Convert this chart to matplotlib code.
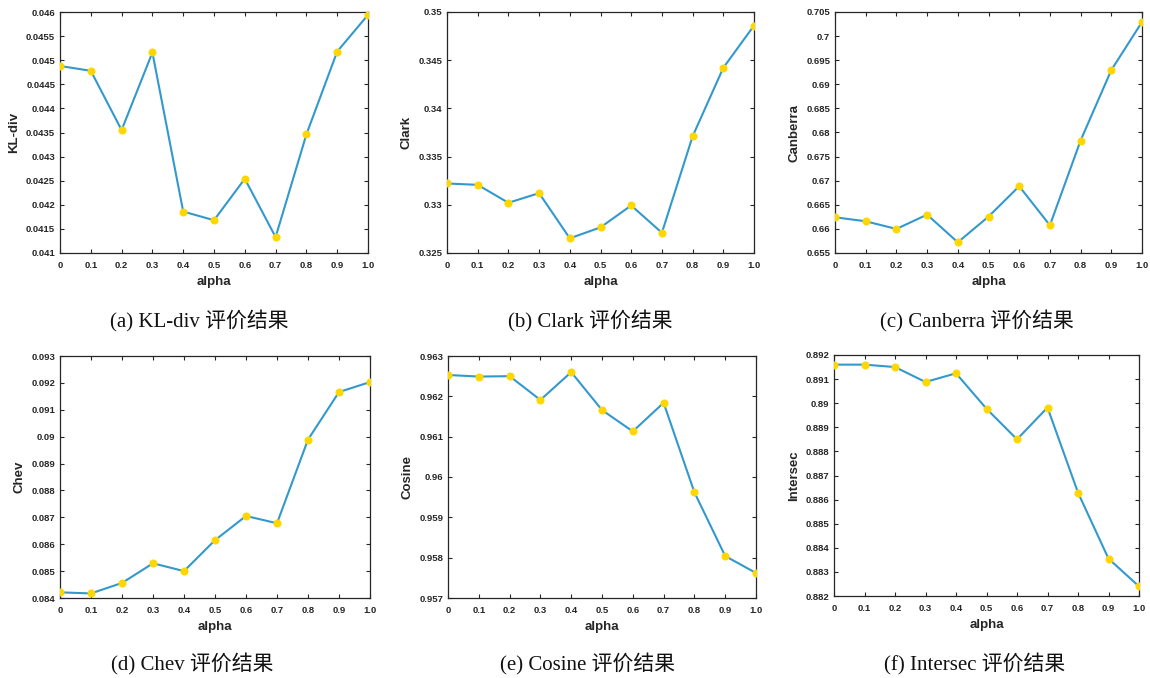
import matplotlib
matplotlib.use('Agg')
import matplotlib.pyplot as plt

alpha = [0, 0.1, 0.2, 0.3, 0.4, 0.5, 0.6, 0.7, 0.8, 0.9, 1.0]
alpha_labels = ['0', '0.1', '0.2', '0.3', '0.4', '0.5', '0.6', '0.7', '0.8', '0.9', '1.0']

kl_div = [0.04488, 0.04478, 0.04355, 0.04516, 0.04186, 0.04168, 0.04254, 0.04133, 0.04346, 0.04518, 0.04594]
clark = [0.33221, 0.33207, 0.33021, 0.33121, 0.32652, 0.32766, 0.32993, 0.32710, 0.33710, 0.34421, 0.34859]
canberra = [0.66241, 0.66158, 0.65999, 0.66296, 0.65722, 0.66255, 0.66885, 0.66075, 0.67834, 0.69295, 0.70292]
chev = [0.08421, 0.08417, 0.08456, 0.08529, 0.08500, 0.08615, 0.08705, 0.08678, 0.08989, 0.09166, 0.09203]
cosine = [0.96253, 0.96249, 0.96250, 0.96191, 0.96260, 0.96166, 0.96113, 0.96184, 0.95962, 0.95804, 0.95762]
intersec = [0.89160, 0.89160, 0.89150, 0.89088, 0.89124, 0.88977, 0.88850, 0.88982, 0.88629, 0.88355, 0.88240]

kl_ticks = ['0.041', '0.0415', '0.042', '0.0425', '0.043', '0.0435', '0.044', '0.0445', '0.045', '0.0455', '0.046']
clark_ticks = ['0.325', '0.33', '0.335', '0.34', '0.345', '0.35']
canberra_ticks = ['0.655', '0.66', '0.665', '0.67', '0.675', '0.68', '0.685', '0.69', '0.695', '0.7', '0.705']
chev_ticks = ['0.084', '0.085', '0.086', '0.087', '0.088', '0.089', '0.09', '0.091', '0.092', '0.093']
cosine_ticks = ['0.957', '0.958', '0.959', '0.96', '0.961', '0.962', '0.963']
intersec_ticks = ['0.882', '0.883', '0.884', '0.885', '0.886', '0.887', '0.888', '0.889', '0.89', '0.891', '0.892']

W, H = 1150, 678
fig = plt.figure(figsize=(W / 100, H / 100), dpi=100)
fig.patch.set_facecolor('white')

line_c = '#3399cc'
mark_c = '#ffd700'
txt_c = '#262626'
cap_font = ['Liberation Serif', 'Noto Sans CJK SC']

# (pixel box: left, right, top, bottom), caption x, caption y
panels = [
    (kl_div, kl_ticks, 'KL-div', (60, 368, 12, 253), 199, 321, '(a) KL-div 评价结果'),
    (clark, clark_ticks, 'Clark', (447, 754, 12, 253), 590, 321, '(b) Clark 评价结果'),
    (canberra, canberra_ticks, 'Canberra', (835, 1142, 12, 253), 977, 321, '(c) Canberra 评价结果'),
    (chev, chev_ticks, 'Chev', (60, 370, 356, 598), 192, 664, '(d) Chev 评价结果'),
    (cosine, cosine_ticks, 'Cosine', (448, 756, 356, 598), 588, 664, '(e) Cosine 评价结果'),
    (intersec, intersec_ticks, 'Intersec', (834, 1139, 355, 596), 975, 664, '(f) Intersec 评价结果'),
]

for vals, yticks, name, (l, r, t, b), cx, cy, cap in panels:
    ax = fig.add_axes([l / W, (H - b) / H, (r - l) / W, (b - t) / H])
    ax.plot(alpha, vals, color=line_c, lw=1.5, marker='o', markersize=4.8,
            markerfacecolor=mark_c, markeredgecolor=mark_c, zorder=3)
    yv = [float(s) for s in yticks]
    ax.set_xlim(0, 1)
    ax.set_ylim(yv[0], yv[-1])
    ax.set_xticks(alpha)
    ax.set_xticklabels(alpha_labels)
    ax.set_yticks(yv)
    ax.set_yticklabels(yticks)
    ax.tick_params(direction='in', top=True, right=True, length=3, width=0.8,
                   labelsize=6.8, colors=txt_c)
    ax.tick_params(axis='x', pad=6)
    ax.tick_params(axis='y', pad=3.5)
    for lab in ax.get_xticklabels() + ax.get_yticklabels():
        lab.set_fontweight('bold')
        lab.set_fontfamily('Liberation Sans')
    for sp in ax.spines.values():
        sp.set_linewidth(0.9)
        sp.set_color(txt_c)
    ax.set_xlabel('alpha', fontsize=9.5, fontweight='bold', color=txt_c,
                  fontfamily='Liberation Sans', labelpad=4)
    ax.set_ylabel(name, fontsize=9.5, fontweight='bold', color=txt_c,
                  fontfamily='Liberation Sans', labelpad=4)
    fig.text(cx / W, 1 - cy / H, cap, ha='center', va='center', fontsize=15,
             family=cap_font, color='#111111')

plt.savefig('out.png', dpi=100, facecolor='white')
